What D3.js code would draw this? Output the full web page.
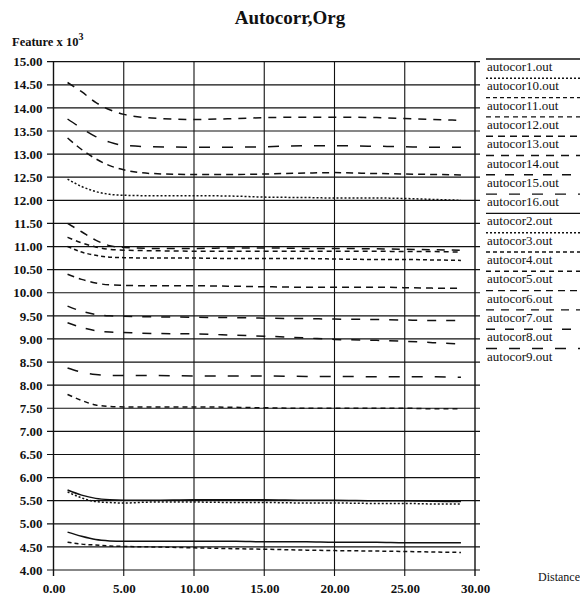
<!DOCTYPE html>
<html>
<head>
<meta charset="utf-8">
<script src="https://cdn.jsdelivr.net/npm/d3@7"></script>
<style>
  body { margin: 0; background: #fff; }
  text { font-family: "Liberation Serif", "Times New Roman", serif; fill: #111; }
</style>
</head>
<body>
<svg id="chart" width="580" height="598"></svg>
<script>
// Sample distances shared by every series
const distances = [1, 2, 3, 4, 5, 7, 10, 13, 15, 18, 20, 23, 25, 27, 29];

// Feature values (x 10^3) per output file
const autocor1  = [5.73, 5.62, 5.55, 5.52, 5.51, 5.51, 5.52, 5.52, 5.52, 5.51, 5.51, 5.50, 5.50, 5.49, 5.48];
const autocor2  = [4.82, 4.73, 4.66, 4.63, 4.62, 4.62, 4.62, 4.62, 4.61, 4.61, 4.60, 4.60, 4.59, 4.59, 4.59];
const autocor3  = [5.69, 5.56, 5.48, 5.46, 5.45, 5.47, 5.47, 5.46, 5.46, 5.45, 5.45, 5.44, 5.44, 5.43, 5.43];
const autocor4  = [4.60, 4.56, 4.54, 4.52, 4.51, 4.50, 4.48, 4.46, 4.45, 4.43, 4.42, 4.41, 4.40, 4.39, 4.38];
const autocor5  = [11.20, 11.08, 10.99, 10.94, 10.92, 10.91, 10.90, 10.90, 10.90, 10.90, 10.90, 10.90, 10.89, 10.89, 10.88];
const autocor6  = [10.40, 10.29, 10.21, 10.17, 10.16, 10.15, 10.15, 10.14, 10.13, 10.12, 10.12, 10.12, 10.11, 10.10, 10.10];
const autocor7  = [11.50, 11.32, 11.14, 11.02, 10.98, 10.96, 10.96, 10.97, 10.97, 10.96, 10.96, 10.95, 10.94, 10.93, 10.92];
const autocor8  = [9.35, 9.25, 9.18, 9.15, 9.14, 9.12, 9.11, 9.08, 9.06, 9.02, 8.99, 8.97, 8.95, 8.92, 8.89];
const autocor9  = [8.37, 8.28, 8.23, 8.21, 8.21, 8.21, 8.20, 8.20, 8.20, 8.19, 8.19, 8.18, 8.18, 8.18, 8.17];
const autocor10 = [12.46, 12.30, 12.19, 12.13, 12.11, 12.10, 12.10, 12.09, 12.07, 12.06, 12.05, 12.05, 12.04, 12.02, 12.00];
const autocor11 = [11.00, 10.88, 10.81, 10.77, 10.76, 10.75, 10.75, 10.74, 10.74, 10.74, 10.73, 10.72, 10.72, 10.71, 10.70];
const autocor12 = [7.80, 7.67, 7.57, 7.54, 7.53, 7.53, 7.53, 7.52, 7.51, 7.50, 7.50, 7.50, 7.50, 7.49, 7.49];
const autocor13 = [13.35, 13.10, 12.90, 12.75, 12.66, 12.58, 12.56, 12.56, 12.57, 12.59, 12.60, 12.58, 12.57, 12.56, 12.55];
const autocor14 = [14.55, 14.35, 14.12, 13.96, 13.86, 13.78, 13.75, 13.77, 13.79, 13.80, 13.80, 13.79, 13.77, 13.75, 13.73];
const autocor15 = [9.71, 9.60, 9.53, 9.50, 9.49, 9.48, 9.47, 9.46, 9.45, 9.44, 9.43, 9.42, 9.41, 9.40, 9.40];
const autocor16 = [13.76, 13.56, 13.38, 13.26, 13.19, 13.16, 13.15, 13.15, 13.16, 13.18, 13.18, 13.17, 13.16, 13.15, 13.15];

// Legend order (file names sorted as text)
const seriesNames = [
  "autocor1.out", "autocor10.out", "autocor11.out", "autocor12.out",
  "autocor13.out", "autocor14.out", "autocor15.out", "autocor16.out",
  "autocor2.out", "autocor3.out", "autocor4.out", "autocor5.out",
  "autocor6.out", "autocor7.out", "autocor8.out", "autocor9.out"
];
const seriesValues = [
  autocor1, autocor10, autocor11, autocor12, autocor13, autocor14, autocor15, autocor16,
  autocor2, autocor3, autocor4, autocor5, autocor6, autocor7, autocor8, autocor9
];

// Axis ticks
const xTicks = [0, 5, 10, 15, 20, 25, 30];
const xTickLabels = ["0.00", "5.00", "10.00", "15.00", "20.00", "25.00", "30.00"];
const yTicks = d3.range(4, 15.001, 0.5);

// Line patterns cycle every eight series
const dashCycle = [null, "2,2", "4,3", "5,4", "7,5", "8,7", "9,10", "11,12"];

const svg = d3.select("#chart");
const x = d3.scaleLinear().domain([0, 30]).range([53.5, 475]);
const y = d3.scaleLinear().domain([4, 15]).range([570, 61.7]);

const ink = "#111";

// Title and axis captions
svg.append("text")
  .attr("x", 290).attr("y", 24)
  .attr("text-anchor", "middle")
  .style("font-size", "19px").style("font-weight", "bold")
  .text("Autocorr,Org");

const yCap = svg.append("text")
  .attr("x", 12).attr("y", 46)
  .style("font-size", "12.5px").style("font-weight", "bold");
yCap.append("tspan").text("Feature x 10");
yCap.append("tspan").attr("dy", -6).style("font-size", "10px").text("3");

svg.append("text")
  .attr("x", 538).attr("y", 581)
  .style("font-size", "12px")
  .text("Distance");

// Grid
const grid = svg.append("g");
grid.selectAll("line.h").data(yTicks).join("line")
  .attr("class", "h")
  .attr("x1", 47).attr("x2", 480)
  .attr("y1", d => y(d)).attr("y2", d => y(d))
  .attr("stroke", ink).attr("stroke-width", 1.2);

grid.selectAll("line.v").data(xTicks).join("line")
  .attr("class", "v")
  .attr("x1", d => x(d)).attr("x2", d => x(d))
  .attr("y1", y(15)).attr("y2", y(4) + 6)
  .attr("stroke", ink)
  .attr("stroke-width", d => (d === 0 || d === 30) ? 1.4 : 1.1);

// Axes (labels only; lines come from the grid)
const yAxis = svg.append("g")
  .attr("transform", `translate(${x(0)},0)`)
  .call(d3.axisLeft(y).tickValues(yTicks).tickFormat(d3.format(".2f")).tickSize(0).tickPadding(11));
yAxis.select(".domain").remove();
yAxis.selectAll("text")
  .style("font-family", '"Liberation Serif", serif')
  .style("font-size", "13px").style("font-weight", "bold").attr("fill", ink);

const xAxis = svg.append("g")
  .attr("transform", `translate(0,${y(4)})`)
  .call(d3.axisBottom(x).tickValues(xTicks).tickFormat((d, i) => xTickLabels[i]).tickSize(0).tickPadding(14));
xAxis.select(".domain").remove();
xAxis.selectAll("text")
  .style("font-family", '"Liberation Serif", serif')
  .style("font-size", "13px").style("font-weight", "bold").attr("fill", ink);

// Series lines
const line = d3.line()
  .x((d, i) => x(distances[i]))
  .y(d => y(d))
  .curve(d3.curveMonotoneX);

svg.append("g").selectAll("path").data(seriesValues).join("path")
  .attr("d", d => line(d))
  .attr("fill", "none")
  .attr("stroke", ink)
  .attr("stroke-width", 1.5)
  .attr("stroke-dasharray", (d, i) => dashCycle[i % 8]);

// Legend: a line sample above each file name
const legend = svg.append("g");
const legY0 = 59, legStep = 19.3;
const entries = legend.selectAll("g").data(seriesNames).join("g")
  .attr("transform", (d, i) => `translate(486,${legY0 + i * legStep})`);
entries.append("line")
  .attr("x1", 0).attr("x2", 96).attr("y1", 0).attr("y2", 0)
  .attr("stroke", ink).attr("stroke-width", 1.4)
  .attr("stroke-dasharray", (d, i) => dashCycle[i % 8]);
entries.append("text")
  .attr("x", 1).attr("y", 12)
  .style("font-size", "13px")
  .text(d => d);
</script>
</body>
</html>
